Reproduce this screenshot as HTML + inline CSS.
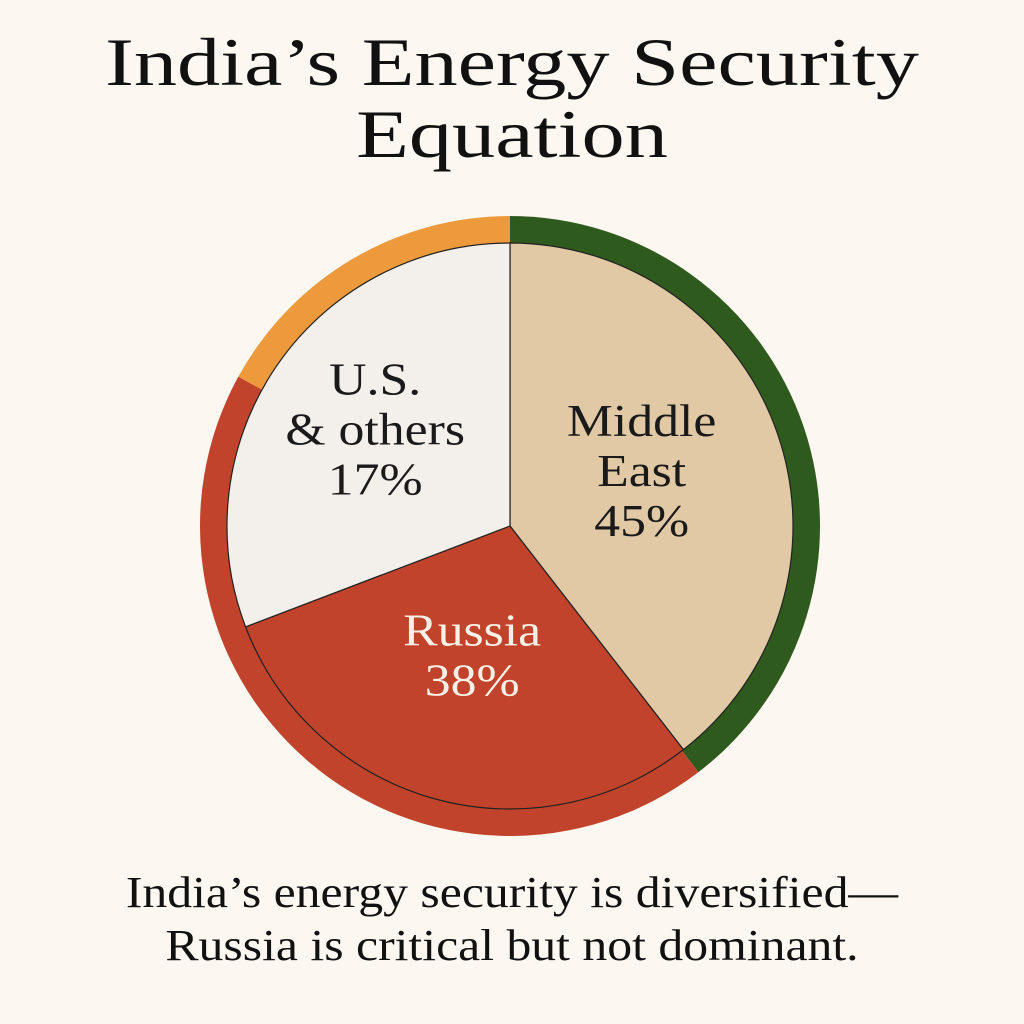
<!DOCTYPE html>
<html><head><meta charset="utf-8"><style>
html,body{margin:0;padding:0;background:#fcf8f1;}
#root{position:relative;width:1024px;height:1024px;overflow:hidden;font-family:"Liberation Serif",serif;color:#111;}
.t{position:absolute;left:0;width:1024px;text-align:center;}
</style></head><body>
<div id="root">
<div class="t" style="top:26px;font-size:68px;line-height:72px;transform:scaleX(1.27);transform-origin:512px 0;">India’s Energy Security<br>Equation</div>
<svg id="pie" width="1024" height="1024" style="position:absolute;left:0;top:0"></svg>
<div class="t" style="top:866px;font-size:44px;line-height:53px;transform:scaleX(1.13);transform-origin:512px 0;">India’s energy security is diversified—<br>Russia is critical but not dominant.</div>
</div>
<script>
const categories = ["Middle East", "Russia", "U.S. & others"];
const valueLabels = ["45%", "38%", "17%"];
const drawnShare = [39.5, 29.7, 30.8];
const ringShare = [39.6, 43.4, 17.0];
const sliceColors = ["#e1c9a6", "#c2432b", "#f3efea"];
const ringColors = ["#2f5a1e", "#c2432b", "#ec9a3b"];
const cx = 510, cy = 526, rOuter = 310, rRing = 285, rPie = 283;
const svg = document.getElementById('pie');
const NS = 'http://www.w3.org/2000/svg';
function pt(r, frac){const a = frac*2*Math.PI; return [cx + r*Math.sin(a), cy - r*Math.cos(a)];}
function arcPath(r0, r1, f0, f1){
  const large = (f1-f0) > 0.5 ? 1 : 0;
  const [x0,y0]=pt(r1,f0),[x1,y1]=pt(r1,f1);
  if(r0<=0) return `M${cx},${cy}L${x0},${y0}A${r1},${r1} 0 ${large} 1 ${x1},${y1}Z`;
  const [x2,y2]=pt(r0,f1),[x3,y3]=pt(r0,f0);
  return `M${x0},${y0}A${r1},${r1} 0 ${large} 1 ${x1},${y1}L${x2},${y2}A${r0},${r0} 0 ${large} 0 ${x3},${y3}Z`;
}
let acc = 0;
const rt = ringShare.reduce((a,b)=>a+b,0);
ringShare.forEach((v,i)=>{
  const f0=acc/rt, f1=(acc+v)/rt; acc+=v;
  const p=document.createElementNS(NS,'path');
  p.setAttribute('d',arcPath(rRing-2,rOuter,f0,f1));
  p.setAttribute('fill',ringColors[i]);
  
  
  svg.appendChild(p);
});
acc=0;
const st = drawnShare.reduce((a,b)=>a+b,0);
const labelPos=[];
drawnShare.forEach((v,i)=>{
  const f0=acc/st, f1=(acc+v)/st; acc+=v;
  const p=document.createElementNS(NS,'path');
  p.setAttribute('d',arcPath(0,rPie,f0,f1));
  p.setAttribute('fill',sliceColors[i]);
  p.setAttribute('stroke','#222');
  p.setAttribute('stroke-width','1.2');
  
  
  svg.appendChild(p);
  labelPos.push(pt(rPie*0.6,(f0+f1)/2));
});
const labelLines=[["Middle","East",valueLabels[0]],["Russia",valueLabels[1]],["U.S.","& others",valueLabels[2]]];
const labelColors=["#1a1a1a","#fbf1e6","#1a1a1a"];
const offs=[[-29,0],[8,-34],[5,0]];
labelLines.forEach((lines,i)=>{
  const t=document.createElementNS(NS,'text');
  t.setAttribute('text-anchor','middle');
  t.setAttribute('font-family','Liberation Serif, serif');
  t.setAttribute('font-size', 45);
  t.setAttribute('fill',labelColors[i]);
  
  
  const lh=50;
  const x=labelPos[i][0]+offs[i][0], y0=labelPos[i][1]+offs[i][1]-(lines.length-1)*lh/2+15;
  t.setAttribute('transform',`translate(${x},0) scale(1.15,1) translate(${-x},0)`);
  lines.forEach((s,j)=>{
    const ts=document.createElementNS(NS,'tspan');
    ts.setAttribute('x',x); ts.setAttribute('y',y0+j*lh); ts.textContent=s;
    t.appendChild(ts);
  });
  svg.appendChild(t);
});
</script>
</body></html>
